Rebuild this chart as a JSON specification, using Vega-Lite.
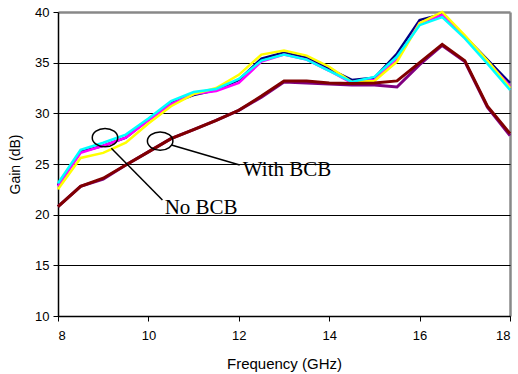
{
  "$schema": "https://vega.github.io/schema/vega-lite/v6.json",
  "width": 452,
  "height": 304,
  "autosize": "none",
  "padding": {"left": 58, "top": 12, "right": 8, "bottom": 58},
  "background": "white",
  "config": {"view": {"stroke": null}, "font": "Liberation Sans"},
  "datasets": {
    "gain": [
      {"f": 8, "N": 22.9, "M": 22.8, "Y": 22.5, "C": 23.1, "P": 20.8, "R": 20.8},
      {"f": 8.5, "N": 26.2, "M": 26.1, "Y": 25.6, "C": 26.4, "P": 22.8, "R": 22.8},
      {"f": 9, "N": 26.8, "M": 26.8, "Y": 26.1, "C": 27.1, "P": 23.5, "R": 23.6},
      {"f": 9.5, "N": 27.6, "M": 27.6, "Y": 27.1, "C": 27.9, "P": 24.9, "R": 24.9},
      {"f": 10, "N": 29.4, "M": 29.3, "Y": 29.0, "C": 29.5, "P": 26.2, "R": 26.2},
      {"f": 10.5, "N": 31.0, "M": 30.9, "Y": 30.7, "C": 31.2, "P": 27.5, "R": 27.5},
      {"f": 11, "N": 31.8, "M": 31.9, "Y": 31.9, "C": 32.1, "P": 28.4, "R": 28.4},
      {"f": 11.5, "N": 32.3, "M": 32.2, "Y": 32.5, "C": 32.4, "P": 29.3, "R": 29.3},
      {"f": 12, "N": 33.3, "M": 33.0, "Y": 33.8, "C": 33.4, "P": 30.3, "R": 30.3},
      {"f": 12.5, "N": 35.4, "M": 35.1, "Y": 35.8, "C": 35.2, "P": 31.6, "R": 31.7},
      {"f": 13, "N": 36.0, "M": 35.8, "Y": 36.2, "C": 35.8, "P": 33.1, "R": 33.2},
      {"f": 13.5, "N": 35.5, "M": 35.3, "Y": 35.7, "C": 35.3, "P": 33.0, "R": 33.2},
      {"f": 14, "N": 34.4, "M": 34.2, "Y": 34.6, "C": 34.2, "P": 32.9, "R": 33.0},
      {"f": 14.5, "N": 33.3, "M": 33.0, "Y": 33.1, "C": 33.1, "P": 32.8, "R": 32.95},
      {"f": 15, "N": 33.5, "M": 33.3, "Y": 33.2, "C": 33.6, "P": 32.8, "R": 33.0},
      {"f": 15.5, "N": 35.9, "M": 35.3, "Y": 35.1, "C": 35.6, "P": 32.6, "R": 33.2},
      {"f": 16, "N": 39.2, "M": 38.9, "Y": 38.9, "C": 38.7, "P": 34.8, "R": 35.0},
      {"f": 16.5, "N": 39.8, "M": 39.7, "Y": 40.0, "C": 39.5, "P": 36.7, "R": 36.8},
      {"f": 17, "N": 37.6, "M": 37.5, "Y": 37.7, "C": 37.4, "P": 35.1, "R": 35.2},
      {"f": 17.5, "N": 35.3, "M": 35.1, "Y": 35.2, "C": 34.9, "P": 30.6, "R": 30.7},
      {"f": 18, "N": 33.0, "M": 32.7, "Y": 32.5, "C": 32.3, "P": 27.8, "R": 28.0}
    ],
    "circles": [
      {"cx": 9.04, "cy": 27.6},
      {"cx": 10.26, "cy": 27.26}
    ],
    "leaders": [
      {"x1": 9.18, "y1": 26.55, "x2": 10.31, "y2": 21.45},
      {"x1": 10.51, "y1": 26.88, "x2": 12.02, "y2": 24.9}
    ],
    "labels": [
      {"tx": 12.09, "ty": 23.8, "label": "With BCB"},
      {"tx": 10.36, "ty": 20.07, "label": "No BCB"}
    ]
  },
  "layer": [
    {
      "data": {"name": "gain"},
      "transform": [
        {"fold": ["N", "M", "Y", "C"], "as": ["series", "gain"]}
      ],
      "mark": {"type": "line", "strokeWidth": 2.5, "clip": false},
      "encoding": {
        "x": {
          "field": "f", "type": "quantitative",
          "scale": {"domain": [8, 18], "nice": false, "zero": false},
          "axis": {
            "title": "Frequency (GHz)",
            "values": [8, 10, 12, 14, 16, 18],
            "grid": true,
            "gridColor": "#888888",
            "gridWidth": 2.5,
            "gridOpacity": {"condition": {"test": "datum.value == 18", "value": 1}, "value": 0},
            "domainColor": "black",
            "domainWidth": 1.5,
            "tickColor": "black",
            "tickSize": 5,
            "labelColor": "black",
            "labelFontSize": 13,
            "labelPadding": 8,
            "titleColor": "black",
            "titleFontSize": 15,
            "titleFontWeight": "normal",
            "titlePadding": 14
          }
        },
        "y": {
          "field": "gain", "type": "quantitative",
          "scale": {"domain": [10, 40], "nice": false, "zero": false},
          "axis": {
            "title": "Gain (dB)",
            "values": [10, 15, 20, 25, 30, 35, 40],
            "grid": true,
            "gridColor": {"condition": {"test": "datum.value == 40", "value": "#888888"}, "value": "black"},
            "gridWidth": {"condition": {"test": "datum.value == 40", "value": 2.5}, "value": 1},
            "domainColor": "black",
            "domainWidth": 1.5,
            "tickColor": "black",
            "tickSize": 5,
            "labelColor": "black",
            "labelFontSize": 13,
            "labelPadding": 4,
            "titleColor": "black",
            "titleFontSize": 14,
            "titleFontWeight": "normal",
            "titlePadding": 12
          }
        },
        "color": {
          "field": "series", "type": "nominal",
          "scale": {"domain": ["N", "M", "Y", "C", "P", "R"], "range": ["#000080", "#FF00FF", "#FFFF00", "#00FFFF", "#800080", "#800000"]},
          "legend": null
        }
      }
    },
    {
      "data": {"name": "gain"},
      "transform": [
        {"fold": ["P", "R"], "as": ["series", "gain"]}
      ],
      "mark": {"type": "line", "strokeWidth": 3, "clip": false},
      "encoding": {
        "x": {"field": "f", "type": "quantitative"},
        "y": {"field": "gain", "type": "quantitative"},
        "color": {"field": "series", "type": "nominal", "legend": null}
      }
    },
    {
      "data": {"name": "leaders"},
      "mark": {"type": "rule", "color": "black", "strokeWidth": 1.5},
      "encoding": {
        "x": {"field": "x1", "type": "quantitative"},
        "y": {"field": "y1", "type": "quantitative"},
        "x2": {"field": "x2"},
        "y2": {"field": "y2"}
      }
    },
    {
      "data": {"name": "circles"},
      "mark": {
        "type": "point",
        "shape": "M-1,0A1,0.72,0,1,0,1,0A1,0.72,0,1,0,-1,0Z",
        "filled": false,
        "color": "black",
        "opacity": 1,
        "strokeWidth": 1.5,
        "size": 650
      },
      "encoding": {
        "x": {"field": "cx", "type": "quantitative"},
        "y": {"field": "cy", "type": "quantitative"}
      }
    },
    {
      "data": {"name": "labels"},
      "mark": {"type": "text", "font": "Liberation Serif", "fontSize": 21, "align": "left", "baseline": "alphabetic", "color": "black"},
      "encoding": {
        "x": {"field": "tx", "type": "quantitative"},
        "y": {"field": "ty", "type": "quantitative"},
        "text": {"field": "label"}
      }
    }
  ]
}
